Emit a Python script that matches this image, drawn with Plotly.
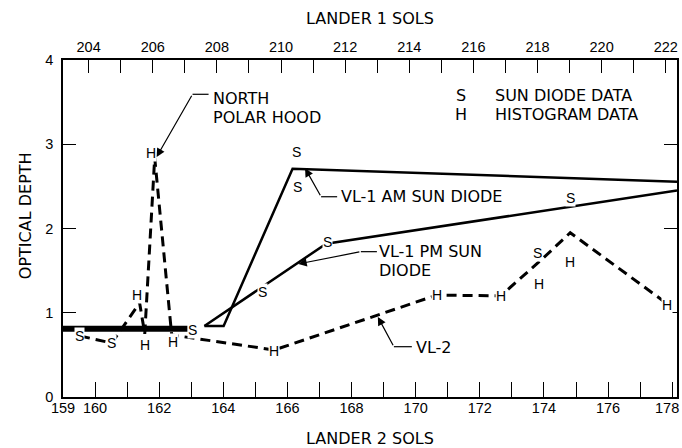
import plotly.graph_objects as go

# ---------------- data ----------------
L1_OFFSET = 44.2  # Lander 1 sol = Lander 2 sol + offset

bottom_tick_vals = list(range(159, 179))
bottom_tick_text = ["159", "160", "", "162", "", "164", "", "166", "", "168", "",
                    "170", "", "172", "", "174", "", "176", "", "178"]
top_tick_vals = list(range(204, 223))
top_tick_text = ["204", "", "206", "", "208", "", "210", "", "212", "", "214", "",
                 "216", "", "218", "", "220", "", "222"]
y_tick_vals = [0, 1, 2, 3, 4]
y_tick_text = ["0", "1", "2", "3", "4"]

# VL-1 AM sun diode (solid)
am_x = [163.41, 164.01, 166.16, 178.15]
am_y = [0.843, 0.843, 2.71, 2.555]
# VL-1 PM sun diode (solid)
pm_x = [163.41, 167.21, 178.15]
pm_y = [0.843, 1.82, 2.45]
# VL-2 (dashed)
vl2_x = [159.53, 160.52, 161.39, 161.55, 161.86, 162.39, 165.59, 170.66, 172.65, 173.98, 174.82, 177.81]
vl2_y = [0.724, 0.641, 1.116, 0.75, 2.84, 0.736, 0.558, 1.21, 1.20, 1.65, 1.95, 1.116]
# earlier VL-1 level (thick bar)
base_x = [159.0, 162.89]
base_y = [0.81, 0.81]

# data symbols
s_label_x = [159.53, 160.52, 163.04, 165.22, 166.27, 166.30, 167.24, 173.80, 174.82]
s_label_y = [0.724, 0.641, 0.795, 1.246, 2.908, 2.49, 1.843, 1.71, 2.36]
h_label_x = [161.32, 161.55, 161.74, 162.43, 165.59, 170.66, 172.65, 173.86, 174.82, 177.84]
h_label_y = [1.21, 0.617, 2.90, 0.656, 0.546, 1.21, 1.20, 1.34, 1.60, 1.09]

X_RANGE = [159, 178.15]
TEXT_FONT = dict(family="DejaVu Sans", size=16, color="black")
NUM_FONT = dict(family="Liberation Sans", size=14.5, color="black")
SYM_FONT = dict(family="Liberation Sans", size=14, color="black")

fig = go.Figure()
fig.add_trace(go.Scatter(x=base_x, y=base_y, mode="lines",
                         line=dict(color="black", width=6), showlegend=False, hoverinfo="skip"))
fig.add_trace(go.Scatter(x=vl2_x, y=vl2_y, mode="lines",
                         line=dict(color="black", width=3, dash="10px,6px"), showlegend=False, hoverinfo="skip"))
fig.add_trace(go.Scatter(x=am_x, y=am_y, mode="lines",
                         line=dict(color="black", width=2.5), showlegend=False, hoverinfo="skip"))
fig.add_trace(go.Scatter(x=pm_x, y=pm_y, mode="lines",
                         line=dict(color="black", width=2.5), showlegend=False, hoverinfo="skip"))
# invisible trace for the top (Lander 1) axis
fig.add_trace(go.Scatter(x=[top_tick_vals[0], top_tick_vals[-1]], y=[None, None], xaxis="x2",
                         mode="lines", showlegend=False, hoverinfo="skip"))

annotations = []
for xs, ys, ch in ((s_label_x, s_label_y, "S"), (h_label_x, h_label_y, "H")):
    for x, y in zip(xs, ys):
        annotations.append(dict(x=x, y=y, xref="x", yref="y", text=ch, showarrow=False,
                                font=SYM_FONT, bgcolor="white", borderpad=0,
                                xanchor="center", yanchor="middle"))

def text_ann(x, y, txt, anchor="left"):
    return dict(x=x, y=y, xref="x", yref="y", text=txt, showarrow=False, font=TEXT_FONT,
                xanchor=anchor, yanchor="middle", align=anchor)

annotations += [
    text_ann(163.62, 3.549, "NORTH"),
    text_ann(163.62, 3.323, "POLAR HOOD"),
    text_ann(171.40, 3.579, "S", "center"),
    text_ann(171.40, 3.359, "H", "center"),
    text_ann(172.42, 3.579, "SUN DIODE DATA"),
    text_ann(172.42, 3.359, "HISTOGRAM DATA"),
    text_ann(167.60, 2.377, "VL-1 AM SUN DIODE"),
    text_ann(168.80, 1.725, "VL-1 PM SUN"),
    text_ann(168.80, 1.507, "DIODE"),
    text_ann(169.95, 0.582, "VL-2"),
]

# leader arrows: (tip x, tip y, corner x, corner y, end x)
leaders = [
    (161.92, 2.85, 163.04, 3.593, 163.54),
    (166.55, 2.715, 167.05, 2.377, 167.55),
    (166.34, 1.58, 168.29, 1.725, 168.79),
    (168.82, 0.95, 169.32, 0.597, 169.88),
]
shapes = []
for tx, ty, cx, cy, ex in leaders:
    annotations.append(dict(x=tx, y=ty, xref="x", yref="y", ax=cx, ay=cy, axref="x", ayref="y",
                            text="", showarrow=True, arrowhead=2, arrowsize=1.4,
                            arrowwidth=1.2, arrowcolor="black"))
    shapes.append(dict(type="line", xref="x", yref="y", x0=cx, y0=cy, x1=ex, y1=cy,
                       line=dict(color="black", width=1.2)))

# the last bottom tick label sits at the window edge: draw it right-aligned so it stays inside
annotations.append(dict(x=bottom_tick_vals[-1], y=-0.0326, xref="x", yref="paper",
                        text=bottom_tick_text[-1], showarrow=False, font=NUM_FONT,
                        xanchor="center", yanchor="middle", xshift=-5))
axis_tick_text = bottom_tick_text[:-1] + [""]

# axis titles
annotations += [
    dict(x=0.5, y=1.1246, xref="paper", yref="paper", text="LANDER 1 SOLS", showarrow=False,
         font=TEXT_FONT, xanchor="center", yanchor="middle"),
    dict(x=0.5, y=-0.1217, xref="paper", yref="paper", text="LANDER 2 SOLS", showarrow=False,
         font=TEXT_FONT, xanchor="center", yanchor="middle"),
    dict(x=-0.0617, y=0.537, xref="paper", yref="paper", text="OPTICAL DEPTH", showarrow=False,
         font=TEXT_FONT, xanchor="center", yanchor="middle", textangle=-90),
]

fig.update_layout(
    width=682, height=448,
    margin=dict(l=63, r=3, t=60, b=51),
    plot_bgcolor="white", paper_bgcolor="white",
    showlegend=False,
    xaxis=dict(range=X_RANGE, tickmode="array", tickvals=bottom_tick_vals, ticktext=axis_tick_text,
               ticks="inside", ticklen=15, tickwidth=1.2, tickcolor="black",
               showline=True, linecolor="black", linewidth=1.5, mirror=False,
               showgrid=False, zeroline=False, tickfont=NUM_FONT, ticklabelstandoff=-3),
    xaxis2=dict(range=[X_RANGE[0] + L1_OFFSET, X_RANGE[1] + L1_OFFSET], overlaying="x", side="top",
                tickmode="array", tickvals=top_tick_vals, ticktext=top_tick_text,
                ticks="inside", ticklen=13, tickwidth=1.2, tickcolor="black",
                showline=True, linecolor="black", linewidth=1.5,
                showgrid=False, zeroline=False, tickfont=NUM_FONT),
    yaxis=dict(range=[0, 4], tickmode="array", tickvals=y_tick_vals, ticktext=y_tick_text,
               ticks="inside", ticklen=13, tickwidth=1.2, tickcolor="black",
               showline=True, linecolor="black", linewidth=1.5, mirror="ticks",
               showgrid=False, zeroline=False, tickfont=NUM_FONT, ticklabelstandoff=5),
    annotations=annotations,
    shapes=shapes,
)

# remove the browser's default 8 px page margin so the 682x448 figure fills the window exactly
fig.write_html("out.html", config={"displayModeBar": False},
               post_script="document.body.style.margin='0px';")
